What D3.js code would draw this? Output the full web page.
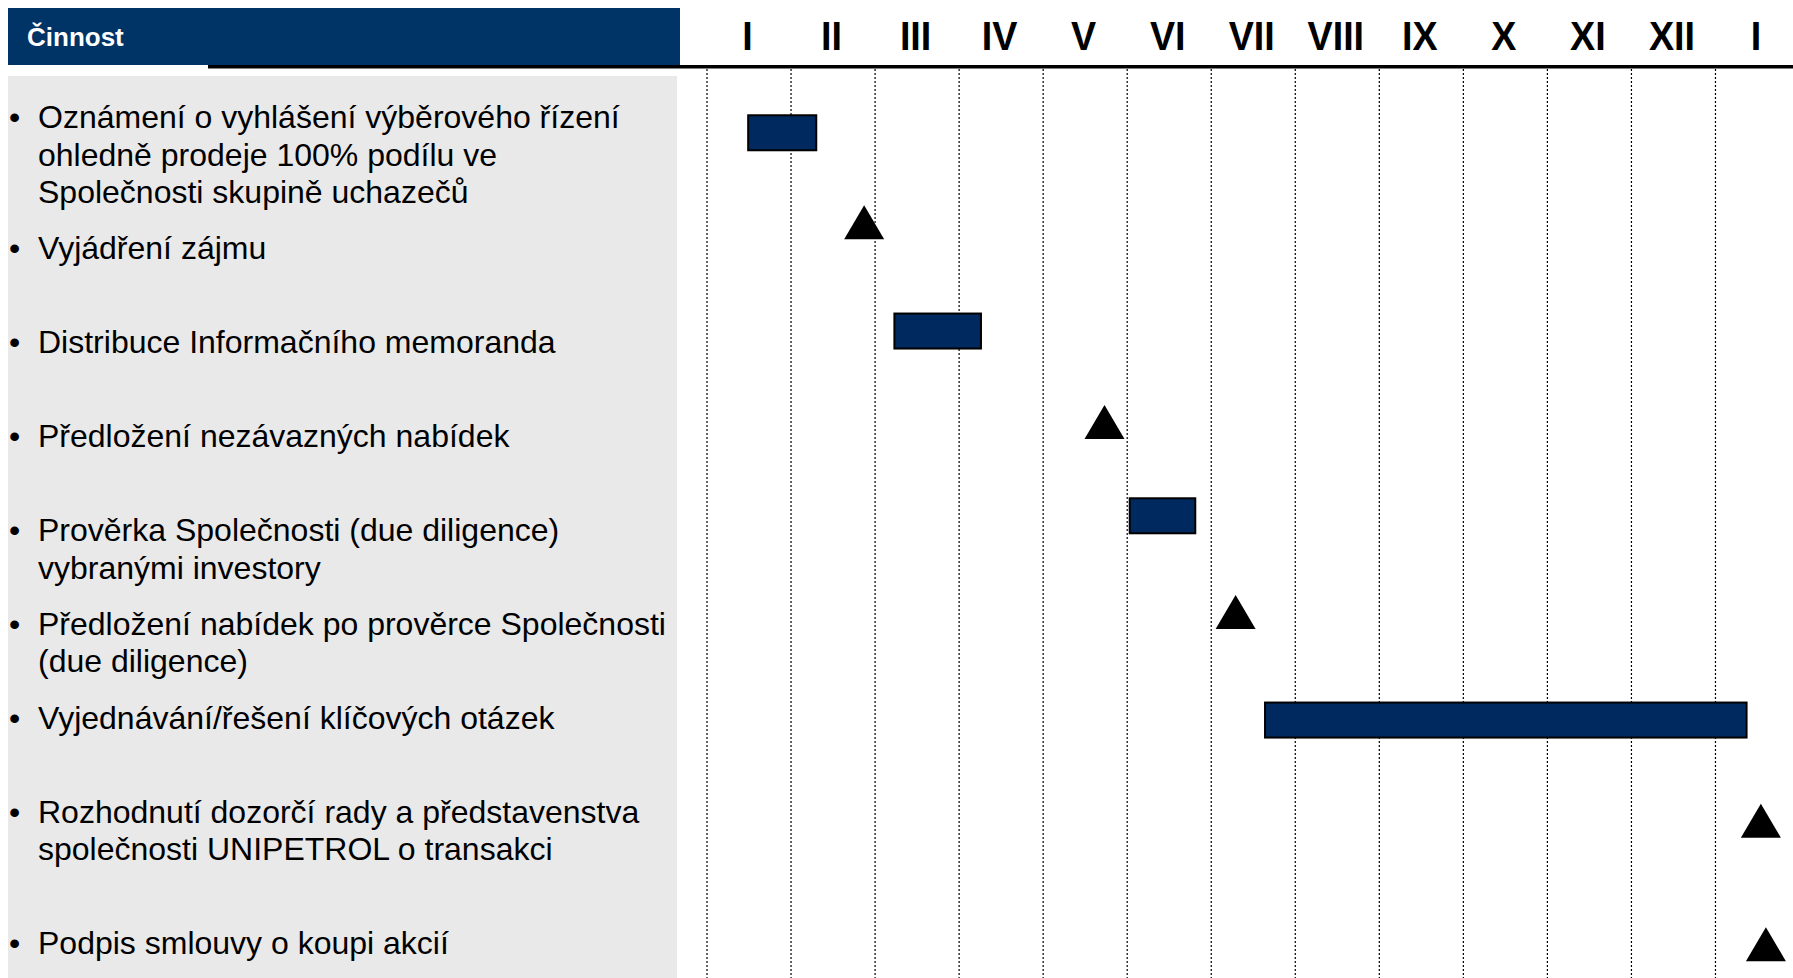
<!DOCTYPE html>
<html>
<head>
<meta charset="utf-8">
<script src="https://cdn.jsdelivr.net/npm/d3@7"></script>
<style>
  html, body { margin: 0; padding: 0; background: #ffffff; }
  svg { display: block; }
</style>
</head>
<body>
<svg id="chart" width="1793" height="978"></svg>
<script>
// ---------------- DATA ----------------
const headerTitle = "Činnost";
const monthLabels = ["I", "II", "III", "IV", "V", "VI", "VII", "VIII", "IX", "X", "XI", "XII", "I"];

// activity texts (empty string = blank line in the text block)
const activityTexts = [
  ["Oznámení o vyhlášení výběrového řízení", "ohledně prodeje 100% podílu ve", "Společnosti skupině uchazečů"],
  ["Vyjádření zájmu", ""],
  ["Distribuce Informačního memoranda", ""],
  ["Předložení nezávazných nabídek", ""],
  ["Prověrka Společnosti (due diligence)", "vybranými investory"],
  ["Předložení nabídek po prověrce Společnosti", "(due diligence)"],
  ["Vyjednávání/řešení klíčových otázek", ""],
  ["Rozhodnutí dozorčí rady a představenstva", "společnosti UNIPETROL o transakci", ""],
  ["Podpis smlouvy o koupi akcií"]
];

// mark type per activity: "bar" = duration, "milestone" = triangle
const markTypes = ["bar", "milestone", "bar", "milestone", "bar", "milestone", "bar", "milestone", "milestone"];
// start (or milestone time) in months from start of January
const markStart = [0.49, 1.87, 2.23, 4.73, 5.03, 6.29, 6.64, 12.54, 12.60];
// end in months (bars only)
const markEnd = [1.30, null, 3.26, null, 5.81, null, 12.37, null, null];
// vertical lane of each mark, in text-line units
const markLane = [0.42, 2.80, 5.70, 8.12, 10.62, 13.18, 16.06, 18.74, 22.03];

// ---------------- LAYOUT ----------------
const svg = d3.select("#chart");
const W = 1793, H = 978;

const x = d3.scaleLinear().domain([0, 13]).range([707, 707 + 84.04 * 13]);
const xBand = d3.scaleBand().domain(d3.range(monthLabels.length)).range([x(0), x(13)]);
const y = d3.scaleLinear().domain([0, 1]).range([117, 117 + 37.55]);

const navy = "#003366";
const barFill = "#002960";

// grey activity panel
svg.append("rect")
  .attr("x", 8).attr("y", 76).attr("width", 669).attr("height", H - 76)
  .attr("fill", "#e9e9e9");

// header box
svg.append("rect")
  .attr("x", 8).attr("y", 8).attr("width", 672).attr("height", 57)
  .attr("fill", navy);

svg.append("text")
  .attr("x", 27).attr("y", 46)
  .attr("fill", "#ffffff")
  .attr("font-family", "'Liberation Sans', Arial, sans-serif")
  .attr("font-weight", "bold")
  .attr("font-size", 26)
  .text(headerTitle);

// black rule under header
svg.append("rect")
  .attr("x", 208).attr("y", 65).attr("width", W - 208).attr("height", 3.5)
  .attr("fill", "#000");

// vertical dotted gridlines at month boundaries
svg.append("g").selectAll("line")
  .data(d3.range(13))
  .join("line")
  .attr("x1", d => x(d)).attr("x2", d => x(d))
  .attr("y1", 69).attr("y2", H)
  .attr("stroke", "#000")
  .attr("stroke-width", 1.2)
  .attr("stroke-dasharray", "2,2");

// month labels
svg.append("g").selectAll("text")
  .data(monthLabels)
  .join("text")
  .attr("transform", (d, i) => `translate(${xBand(i) + xBand.bandwidth() / 2 - 1.5},50) scale(0.92,1)`)
  .attr("text-anchor", "middle")
  .attr("font-family", "'Liberation Sans', Arial, sans-serif")
  .attr("font-weight", "bold")
  .attr("font-size", 41)
  .attr("fill", "#000")
  .text(d => d);

// activity texts
let cum = 0;
const rows = activityTexts.map(lines => {
  const r = { lines, start: cum };
  cum += lines.length + 0.5;
  return r;
});

const tg = svg.append("g")
  .attr("font-family", "'Liberation Sans', Arial, sans-serif")
  .attr("font-size", 32)
  .attr("fill", "#000");

rows.forEach(r => {
  tg.append("text")
    .attr("x", 9).attr("y", y(r.start) + 11)
    .text("•");
  r.lines.forEach((ln, j) => {
    if (!ln) return;
    tg.append("text")
      .attr("x", 38).attr("y", y(r.start + j) + 11)
      .text(ln);
  });
});

// marks
const marks = markTypes.map((t, i) => ({ type: t, start: markStart[i], end: markEnd[i], lane: markLane[i] }));
const barH = 35, triW = 40, triH = 34;

svg.append("g").selectAll("rect")
  .data(marks.filter(d => d.type === "bar"))
  .join("rect")
  .attr("x", d => x(d.start))
  .attr("y", d => y(d.lane) - barH / 2)
  .attr("width", d => x(d.end) - x(d.start))
  .attr("height", barH)
  .attr("fill", barFill)
  .attr("stroke", "#000")
  .attr("stroke-width", 2);

svg.append("g").selectAll("path")
  .data(marks.filter(d => d.type === "milestone"))
  .join("path")
  .attr("d", d => {
    const cx = x(d.start), cy = y(d.lane);
    return `M${cx},${cy - triH / 2} L${cx + triW / 2},${cy + triH / 2} L${cx - triW / 2},${cy + triH / 2} Z`;
  })
  .attr("fill", "#000");
</script>
</body>
</html>
